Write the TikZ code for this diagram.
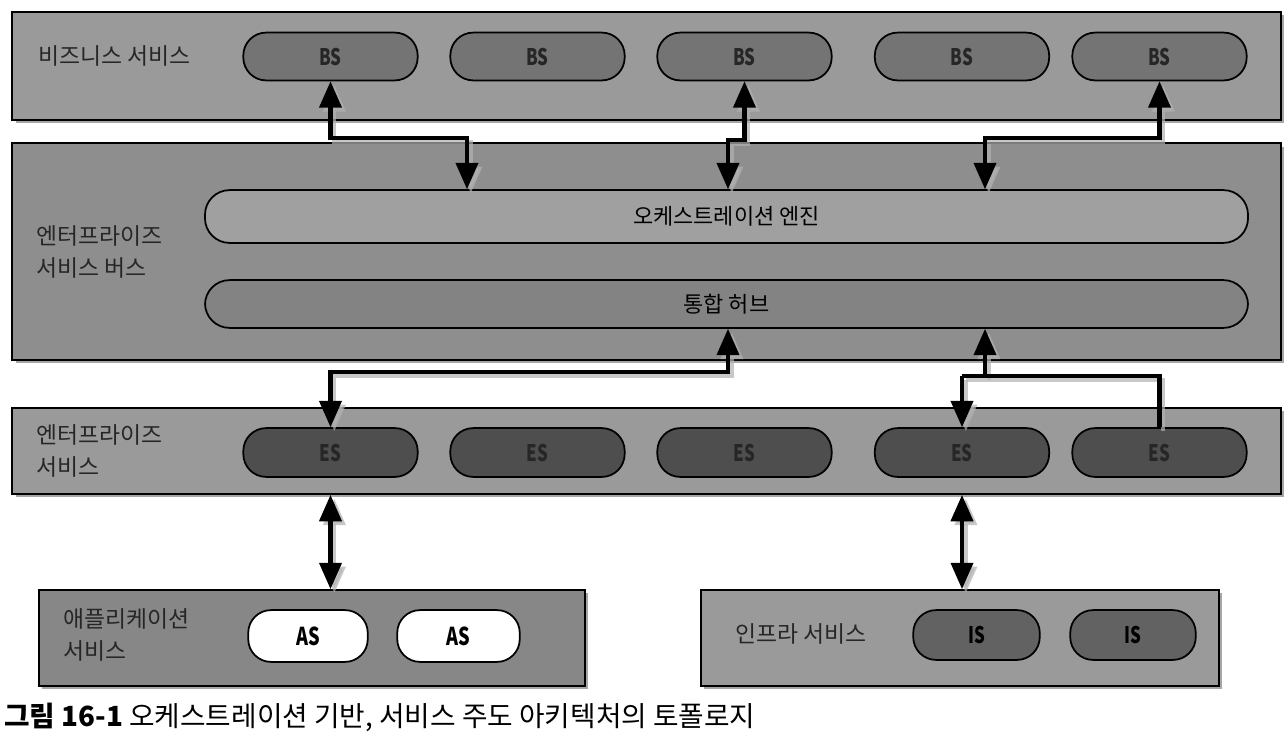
\documentclass[tikz,border=0pt]{standalone}
\usepackage{fontspec}
\setmainfont{Noto Sans CJK KR}
\newfontfamily\condfont[FakeStretch=0.74]{Noto Sans CJK KR}
\usetikzlibrary{arrows.meta,shadows,calc}
\definecolor{bandfill}{HTML}{9A9A9A}
\definecolor{esbfill}{HTML}{8E8E8E}
\definecolor{bsfill}{HTML}{747474}
\definecolor{esfill}{HTML}{4E4E4E}
\definecolor{isfill}{HTML}{626262}
\definecolor{engfill}{HTML}{A0A0A0}
\definecolor{hubfill}{HTML}{838383}
\definecolor{pilltext}{HTML}{262626}
\tikzset{
  band/.style={draw=black, line width=1.2pt, fill=bandfill, inner sep=0pt,
    drop shadow={shadow xshift=1.8pt, shadow yshift=-1.8pt, fill=black, opacity=.35}},
  pill/.style={draw=black, line width=1pt, rounded corners=13pt, inner sep=0pt,
    minimum width=175*0.567pt, minimum height=48*0.567pt,
    font=\condfont\bfseries\fontsize{13}{15}\selectfont, text=pilltext},
  bigpill/.style={draw=black, line width=1pt, rounded corners=14pt, inner sep=0pt,
    minimum width=1047*0.567pt, font=\fontsize{12.5}{14}\selectfont},
  lbl/.style={anchor=west, align=left, font=\fontsize{13}{18}\selectfont, text=black!85, inner sep=0pt},
  conn/.style={line width=2.3pt, line join=miter},
  tip/.style={-{Triangle[length=15pt,width=12.5pt]}},
  bitip/.style={{Triangle[length=15pt,width=12.5pt]}-{Triangle[length=15pt,width=12.5pt]}}
}
\newcommand\allconns{%
  \draw[conn, bitip] (bs1.south) |- (c1) -- (c1 |- engine.north);
  \draw[conn, bitip] (bs3.south) |- (c2) -- (c2 |- engine.north);
  \draw[conn, bitip] (bs5.south) |- (c3) -- (c3 |- engine.north);
  \draw[conn, bitip] (c4 |- hub.south) -- (c4) -| (es1.north);
  \draw[conn, tip] (c5) -- (c5 |- hub.south);
  \draw[conn] (c6) -- (c6 -| es5.north) -- (es5.north);
  \draw[conn, tip] (c6) -- (es4.north);
  \draw[conn, bitip] (es1.south |- esband.south) -- (es1.south |- asband.north);
  \draw[conn, bitip] (es4.south |- esband.south) -- (es4.south |- isband.north);
}
\begin{document}
\begin{tikzpicture}[x=0.02cm,y=-0.02cm]
\useasboundingbox[fill=white] (0,0) rectangle (1286,748);

% ---------- bands ----------
\node[band, minimum width=1273*0.567pt, minimum height=108*0.567pt] (bsband) at (646.5,66) {};
\node[band, fill=esbfill, minimum width=1273*0.567pt, minimum height=217*0.567pt] (esb) at (646.5,251.5) {};
\node[band, minimum width=1273*0.567pt, minimum height=86*0.567pt] (esband) at (646.5,451) {};
\node[band, fill=esbfill!95!black, minimum width=548*0.567pt, minimum height=96*0.567pt] (asband) at (312,638) {};
\node[band, minimum width=520*0.567pt, minimum height=96*0.567pt] (isband) at (960,638) {};

% ---------- labels ----------
\node[lbl] (lbs) at (38,56) {비즈니스 서비스};
\node[lbl] (lesb) at (36,252) {엔터프라이즈\\서비스 버스};
\node[lbl] (les) at (36,451) {엔터프라이즈\\서비스};
\node[lbl] (las) at (63,635) {애플리케이션\\서비스};
\node[lbl] (lis) at (735,634) {인프라 서비스};

% ---------- BS pills ----------
\node[pill, fill=bsfill] (bs1) at (330.5,56.5) {BS};
\node[pill, fill=bsfill] (bs2) at (537.5,56.5) {BS};
\node[pill, fill=bsfill] (bs3) at (744.5,56.5) {BS};
\node[pill, fill=bsfill] (bs4) at (962,56.5) {BS};
\node[pill, fill=bsfill] (bs5) at (1159.5,56.5) {BS};

% ---------- ESB inner ----------
\node[bigpill, fill=engfill, minimum height=53*0.567pt] (engine) at (726.5,216.5) {오케스트레이션 엔진};
\node[bigpill, fill=hubfill, minimum height=48*0.567pt] (hub) at (726.5,304) {통합 허브};

% ---------- ES pills ----------
\node[pill, fill=esfill, minimum height=49*0.567pt] (es1) at (330.5,452.5) {ES};
\node[pill, fill=esfill, minimum height=49*0.567pt] (es2) at (537.5,452.5) {ES};
\node[pill, fill=esfill, minimum height=49*0.567pt] (es3) at (744.5,452.5) {ES};
\node[pill, fill=esfill, minimum height=49*0.567pt] (es4) at (962,452.5) {ES};
\node[pill, fill=esfill, minimum height=49*0.567pt] (es5) at (1159.5,452.5) {ES};

% ---------- AS / IS pills ----------
\node[pill, fill=white, text=black, font=\condfont\bfseries\fontsize{14}{16}\selectfont,
  minimum width=120*0.567pt, minimum height=52*0.567pt] (as1) at (308,636) {AS};
\node[pill, fill=white, text=black, font=\condfont\bfseries\fontsize{14}{16}\selectfont,
  minimum width=123*0.567pt, minimum height=52*0.567pt] (as2) at (458.5,636) {AS};
\node[pill, fill=isfill, text=black, font=\condfont\bfseries\fontsize{13}{15}\selectfont,
  minimum width=127*0.567pt, minimum height=50*0.567pt] (is1) at (976.5,635) {IS};
\node[pill, fill=isfill, text=black, font=\condfont\bfseries\fontsize{13}{15}\selectfont,
  minimum width=126*0.567pt, minimum height=50*0.567pt] (is2) at (1133,635) {IS};

% ---------- connector turning points ----------
\coordinate (c1) at (467,138);
\coordinate (c2) at (728,140);
\coordinate (c3) at (985,138);
\coordinate (c4) at (728,372);
\coordinate (c5) at (985,376);
\coordinate (c6) at (962,376);

% ---------- connectors (shadow, then line) ----------
\begin{scope}[black!30, opacity=.7, transform canvas={shift={(2.2pt,-2.2pt)}}]
  \allconns
\end{scope}
\begin{scope}[black]
  \allconns
\end{scope}

% ---------- caption ----------
\node[anchor=west, inner sep=0pt, font=\fontsize{15.8}{17}\selectfont] (cap) at (4,717)
  {\textbf{그림 16-1} 오케스트레이션 기반, 서비스 주도 아키텍처의 토폴로지};
\end{tikzpicture}
\end{document}
